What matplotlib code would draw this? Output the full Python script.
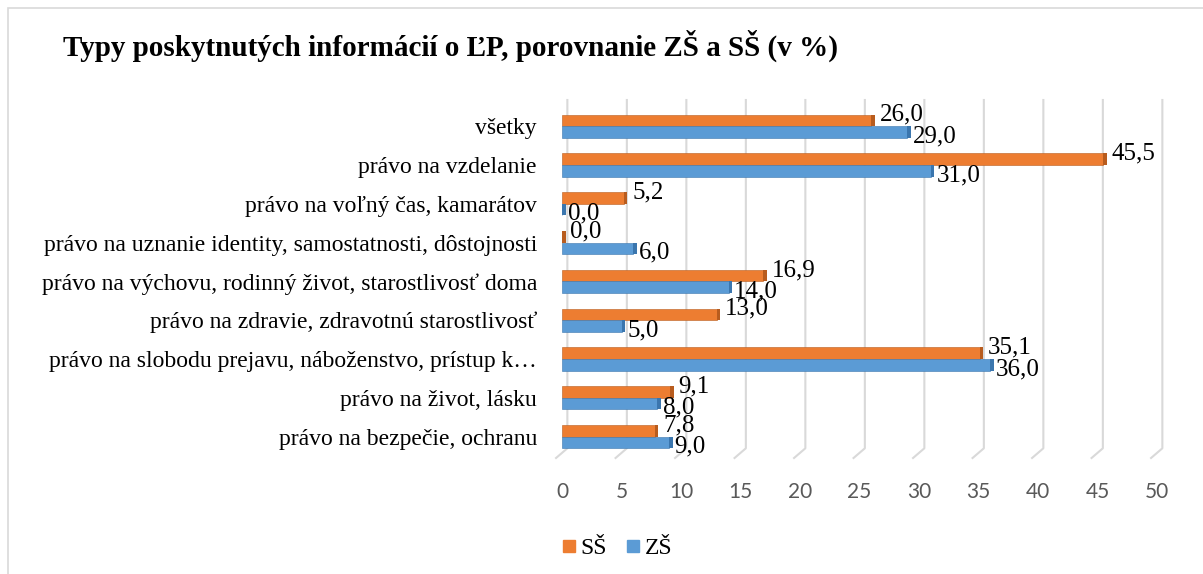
import numpy as np
import matplotlib.pyplot as plt
from matplotlib.patches import Rectangle
from matplotlib.lines import Line2D

# kategórie zhora nadol
kategorie = [
    "všetky",
    "právo na vzdelanie",
    "právo na voľný čas, kamarátov",
    "právo na uznanie identity, samostatnosti, dôstojnosti",
    "právo na výchovu, rodinný život, starostlivosť doma",
    "právo na zdravie, zdravotnú starostlivosť",
    "právo na slobodu prejavu, náboženstvo, prístup k…",
    "právo na život, lásku",
    "právo na bezpečie, ochranu",
]
ss = [26.0, 45.5, 5.2, 0.0, 16.9, 13.0, 35.1, 9.1, 7.8]
zs = [29.0, 31.0, 0.0, 6.0, 14.0, 5.0, 36.0, 8.0, 9.0]
ticks = list(range(0, 55, 5))

ORANGE = "#ED7D31"
ORANGE_D = "#B85C1E"
BLUE = "#5B9BD5"
BLUE_D = "#3B76AE"
GRID = "#D9D9D9"

W, H = 1203, 574
fig = plt.figure(figsize=(W / 100, H / 100), dpi=100)

# okraj grafu
fig.patches.append(Rectangle((8 / W, -0.05), 1.2, 1 - 8 / H + 0.05,
                             transform=fig.transFigure, fill=False,
                             edgecolor="#D9D9D9", lw=1.2))

ax = fig.add_axes([562 / W, 1 - 458 / H, (1157 - 562) / W, (458 - 100) / H])
ax.set_xlim(0, 50)
ax.set_ylim(8.55, -0.674)

y = np.arange(len(kategorie))
h = 0.3

# mriežka na zadnej stene + šikmé čiary na podlahe
for t in ticks:
    ax.plot([t + 0.45, t + 0.45, t - 0.5], [-0.674, 8.3, 8.55],
            color=GRID, lw=1.5, zorder=0, clip_on=False)

# pruhy s tmavším koncom (3D efekt)
ax.barh(y - h / 2, ss, height=h, color=ORANGE, edgecolor=ORANGE_D, lw=0.4, zorder=2)
ax.barh(y + h / 2, zs, height=h, color=BLUE, edgecolor=BLUE_D, lw=0.4, zorder=2)
ax.barh(y - h / 2, 0.3, left=ss, height=h, color=ORANGE_D, zorder=2)
ax.barh(y + h / 2, 0.3, left=zs, height=h, color=BLUE_D, zorder=2)

# popisky hodnôt
for i in range(len(kategorie)):
    ax.annotate(f"{ss[i]:.1f}".replace(".", ","), (ss[i], y[i] - h / 2),
                xytext=(6, 4), textcoords="offset points", va="center",
                ha="left", fontsize=18, family="Liberation Serif", zorder=3)
    ax.annotate(f"{zs[i]:.1f}".replace(".", ","), (zs[i], y[i] + h / 2),
                xytext=(4, -3), textcoords="offset points", va="center",
                ha="left", fontsize=18, family="Liberation Serif", zorder=3)

ax.set_yticks(y)
ax.set_yticklabels(kategorie, family="Liberation Serif", fontsize=17)
ax.set_xticks(ticks)
ax.set_xticklabels([str(t) for t in ticks], family="Lato", fontsize=15, color="#595959")
ax.tick_params(axis="x", length=0, pad=17)
ax.tick_params(axis="y", length=0, pad=18)
for s in ax.spines.values():
    s.set_visible(False)

fig.text(63 / W, 1 - 46 / H, "Typy poskytnutých informácií o ĽP, porovnanie ZŠ a SŠ (v %)",
         family="Liberation Serif", fontweight="bold", fontsize=21, va="center", ha="left")

handles = [Line2D([], [], marker="s", ls="", color=ORANGE, markersize=9, label="SŠ"),
           Line2D([], [], marker="s", ls="", color=BLUE, markersize=9, label="ZŠ")]
fig.legend(handles=handles, loc="center", bbox_to_anchor=(615 / W, 1 - 548 / H), ncol=2,
           frameon=False, prop={"family": "Liberation Serif", "size": 17},
           handletextpad=0.0, columnspacing=0.6, handlelength=1.0)

fig.savefig("out.png", dpi=100)
